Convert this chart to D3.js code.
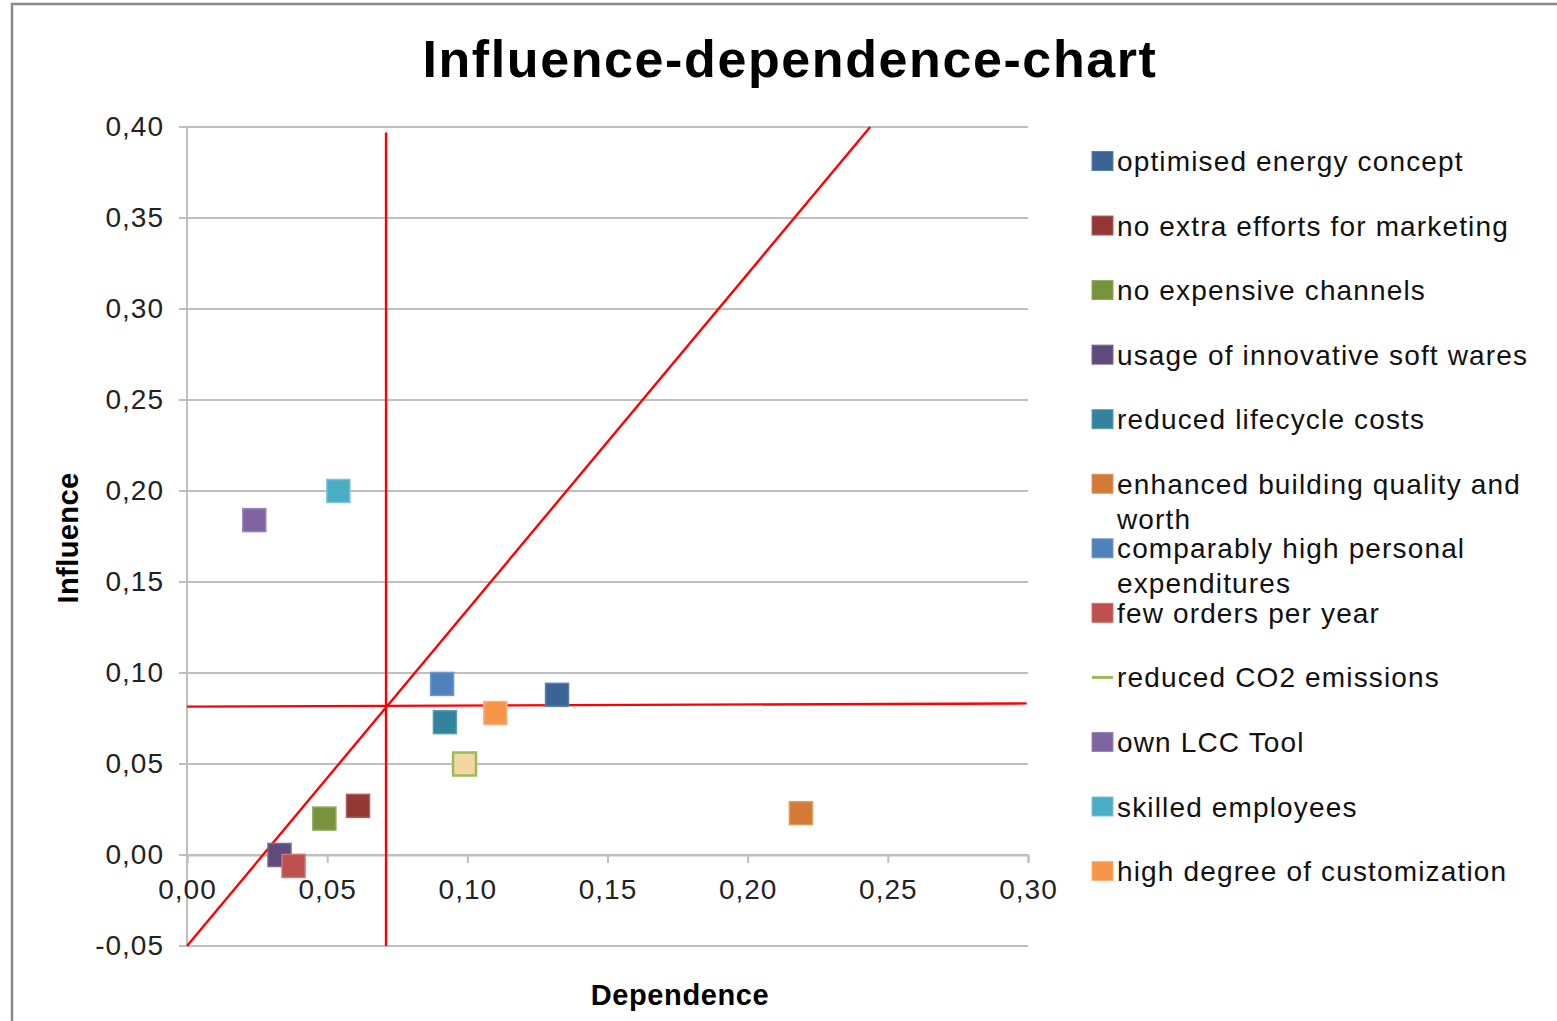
<!DOCTYPE html>
<html>
<head>
<meta charset="utf-8">
<script src="https://cdn.jsdelivr.net/npm/d3@7"></script>
<style>
  html, body { margin: 0; padding: 0; background: #ffffff; }
  svg { display: block; font-family: "Liberation Sans", Arial, sans-serif; }
</style>
</head>
<body>
<svg id="chart" width="1557" height="1021"></svg>
<script>
// ---------------- data ----------------
const categories = [
  "optimised energy concept",
  "no extra efforts for marketing",
  "no expensive channels",
  "usage of innovative soft wares",
  "reduced lifecycle costs",
  "enhanced building quality and worth",
  "comparably high personal expenditures",
  "few orders per year",
  "reduced CO2 emissions",
  "own LCC Tool",
  "skilled employees",
  "high degree of customization"
];
const dependence = [0.132, 0.061, 0.049, 0.033, 0.092, 0.219, 0.091, 0.038, 0.099, 0.024, 0.054, 0.110];
const influence  = [0.088, 0.027, 0.020, 0.000, 0.073, 0.023, 0.094, -0.006, 0.050, 0.184, 0.200, 0.078];

const xTicks = [0, 0.05, 0.10, 0.15, 0.20, 0.25, 0.30];
const yTicks = [-0.05, 0, 0.05, 0.10, 0.15, 0.20, 0.25, 0.30, 0.35, 0.40];

// red reference lines (data coordinates)
const refVertical   = { x1: 0.071, y1: 0.397, x2: 0.071, y2: -0.05 };
const refHorizontal = { x1: 0.0,   y1: 0.0815, x2: 0.2995, y2: 0.0833 };
const refDiagonal   = { x1: 0.0,   y1: -0.05, x2: 0.2437, y2: 0.40 };

const titleText = "Influence-dependence-chart";
const xTitle = "Dependence";
const yTitle = "Influence";

// ---------------- styles ----------------
const fillColors = ["#3B6496", "#953735", "#77933C", "#5F4A7B", "#31849B", "#D37A36",
                    "#4F81BD", "#C0504D", "#F2D7A0", "#8064A2", "#4BACC6", "#F79646"];
const strokeColors = ["#5A7FAD", "#A9605E", "#8EA760", "#7A6992", "#5A9DB0", "#E09A60",
                      "#7399C8", "#CE7472", "#9BBB59", "#9A84B5", "#7CC2D4", "#F9B27A"];
const legendIsLine = [false, false, false, false, false, false, false, false, true, false, false, false];

// ---------------- drawing ----------------
const svg = d3.select("#chart");
const fmt = v => d3.format(".2f")(v).replace(".", ",").replace("−", "-");

const x = d3.scaleLinear().domain([0, 0.30]).range([187, 1028]);
const y = d3.scaleLinear().domain([-0.05, 0.40]).range([946, 127]);

// outer frame
svg.append("path")
  .attr("d", "M12,1030 L12,4 L1570,4")
  .attr("fill", "none").attr("stroke", "#8a8a8a").attr("stroke-width", 2.5);

// title
svg.append("text")
  .attr("x", 790).attr("y", 77)
  .attr("text-anchor", "middle")
  .attr("font-size", 52).attr("font-weight", "bold")
  .attr("letter-spacing", 1.6)
  .attr("fill", "#000")
  .text(titleText);

// horizontal gridlines
svg.append("g").selectAll("line").data(yTicks).join("line")
  .attr("x1", x(0) - 8).attr("x2", x(0.30))
  .attr("y1", d => y(d)).attr("y2", d => y(d))
  .attr("stroke", "#bfbfbf").attr("stroke-width", 2);

// y axis line
svg.append("line")
  .attr("x1", x(0)).attr("x2", x(0))
  .attr("y1", y(0.40)).attr("y2", y(-0.05))
  .attr("stroke", "#bfbfbf").attr("stroke-width", 2);

// x axis line at 0 with tick marks below
const xAxis = d3.axisBottom(x).tickValues(xTicks).tickSize(8).tickFormat(fmt);
const gx = svg.append("g").attr("transform", `translate(0,${y(0)})`).call(xAxis);
gx.select(".domain").attr("stroke", "#bfbfbf").attr("stroke-width", 2);
gx.selectAll(".tick line").attr("stroke", "#bfbfbf").attr("stroke-width", 2);
gx.selectAll(".tick text")
  .attr("y", 44).attr("dy", "0")
  .attr("font-size", 28).attr("font-family", "Liberation Sans, Arial, sans-serif")
  .attr("letter-spacing", 1)
  .attr("fill", "#222");

// y tick labels
const yAxis = d3.axisLeft(y).tickValues(yTicks).tickSize(0).tickPadding(23).tickFormat(fmt);
const gy = svg.append("g").attr("transform", `translate(${x(0)},0)`).call(yAxis);
gy.select(".domain").remove();
gy.selectAll(".tick text")
  .attr("font-size", 28).attr("font-family", "Liberation Sans, Arial, sans-serif")
  .attr("letter-spacing", 1)
  .attr("fill", "#222");

// axis titles
svg.append("text")
  .attr("x", 680).attr("y", 1005)
  .attr("text-anchor", "middle")
  .attr("font-size", 29).attr("font-weight", "bold").attr("fill", "#000")
  .attr("letter-spacing", 0.6)
  .text(xTitle);
svg.append("text")
  .attr("transform", `translate(78,538) rotate(-90)`)
  .attr("text-anchor", "middle")
  .attr("font-size", 29).attr("font-weight", "bold").attr("fill", "#000")
  .attr("letter-spacing", 0.4)
  .text(yTitle);

// red reference lines
const refs = [refVertical, refHorizontal, refDiagonal];
svg.append("g").selectAll("line").data(refs).join("line")
  .attr("x1", d => x(d.x1)).attr("y1", d => y(d.y1))
  .attr("x2", d => x(d.x2)).attr("y2", d => y(d.y2))
  .attr("stroke", "#ff0000").attr("stroke-width", 2.4);

// markers
const pts = categories.map((c, i) => ({ c, i, dx: dependence[i], iy: influence[i] }));
const ms = 23;
svg.append("g").selectAll("rect").data(pts).join("rect")
  .attr("x", d => x(d.dx) - ms / 2).attr("y", d => y(d.iy) - ms / 2)
  .attr("width", ms).attr("height", ms)
  .attr("fill", d => fillColors[d.i])
  .attr("stroke", d => strokeColors[d.i])
  .attr("stroke-width", d => d.i === 8 ? 2.5 : 1.5);

// legend
const legX = 1092, legY0 = 161, legStep = 64.55;
const lg = svg.append("g");
categories.forEach((c, i) => {
  const cy = legY0 + i * legStep;
  if (legendIsLine[i]) {
    lg.append("line").attr("x1", legX).attr("x2", legX + 21)
      .attr("y1", cy).attr("y2", cy)
      .attr("stroke", strokeColors[i]).attr("stroke-width", 3);
  } else {
    lg.append("rect").attr("x", legX).attr("y", cy - 9.5)
      .attr("width", 21).attr("height", 19)
      .attr("fill", fillColors[i]).attr("stroke", strokeColors[i]).attr("stroke-width", 1);
  }
  const t = lg.append("text")
    .attr("x", legX + 25).attr("y", cy + 10)
    .attr("font-size", 28).attr("letter-spacing", 1.15).attr("fill", "#111");
  // word wrap
  const words = c.split(" ");
  let line = [];
  let tspan = t.append("tspan").attr("x", legX + 25).attr("dy", 0);
  words.forEach(w => {
    line.push(w);
    tspan.text(line.join(" "));
    if (tspan.node().getComputedTextLength() > 445 && line.length > 1) {
      line.pop();
      tspan.text(line.join(" "));
      line = [w];
      tspan = t.append("tspan").attr("x", legX + 25).attr("dy", 35).text(w);
    }
  });
});
</script>
</body>
</html>
